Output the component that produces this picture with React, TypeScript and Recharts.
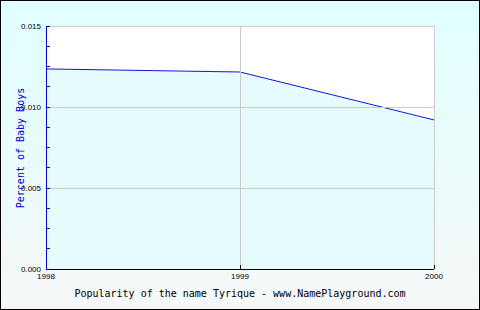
import React from "react";
import { ComposedChart, Area, XAxis, YAxis, ReferenceLine } from "recharts";

const years = [1998, 1999, 2000];
const percents = [0.01235, 0.01216, 0.0092];
const yTicks = [0, 0.00125, 0.0025, 0.00375, 0.005, 0.00625, 0.0075, 0.00875, 0.01, 0.01125, 0.0125, 0.01375, 0.015];
const yMajor = [0.005, 0.01, 0.015];
const yLabels: Record<string, string> = { "0": "0.000", "0.005": "0.005", "0.01": "0.010", "0.015": "0.015" };
const title = "Popularity of the name Tyrique - www.NamePlayground.com";
const yTitle = "Percent of Baby Boys";

const data = years.map((y, i) => ({ year: y, pct: percents[i] }));

export default function App() {
  return (
    <div
      style={{
        position: "absolute",
        left: 0,
        top: 0,
        width: 480,
        height: 310,
        boxSizing: "border-box",
        border: "1px solid #000",
        background: "linear-gradient(#e0ffff, #f6f8f8)",
        overflow: "hidden",
      }}
    >
      <ComposedChart
        width={478}
        height={308}
        data={data}
        margin={{ top: 25, right: 45, bottom: 0, left: 0 }}
      >
        <rect x={45} y={25} width={388} height={243} fill="#ffffff" />
        <Area
          type="linear"
          dataKey="pct"
          stroke="#1414e0"
          strokeWidth={1}
          fill="#e6fcfc"
          fillOpacity={1}
          isAnimationActive={false}
          dot={false}
          activeDot={false}
        />
        {yMajor.map((v) => (
          <ReferenceLine key={"h" + v} y={v} stroke="#cccccc" strokeWidth={1} shapeRendering="crispEdges" />
        ))}
        <ReferenceLine x={1999} stroke="#cccccc" strokeWidth={1} shapeRendering="crispEdges" />
        <ReferenceLine x={2000} stroke="#cccccc" strokeWidth={1} shapeRendering="crispEdges" />
        <XAxis
          dataKey="year"
          type="number"
          domain={[1998, 2000]}
          ticks={years}
          height={40}
          axisLine={{ stroke: "#000000", shapeRendering: "crispEdges" }}
          tickLine={{ stroke: "#000000", shapeRendering: "crispEdges" }}
          tickSize={-4}
          tickMargin={8}
          tick={{ fontFamily: "Liberation Sans", fontSize: 8, fill: "#000000" }}
          interval={0}
        />
        <YAxis
          type="number"
          domain={[0, 0.015]}
          ticks={yTicks}
          width={45}
          axisLine={{ stroke: "#0000cc", shapeRendering: "crispEdges" }}
          tickLine={{ stroke: "#0000cc", shapeRendering: "crispEdges" }}
          tickSize={-4}
          tickMargin={9}
          interval={0}
          tickFormatter={(v: number) => yLabels[String(v)] ?? ""}
          tick={{ fontFamily: "Liberation Sans", fontSize: 8, fill: "#000000" }}
        />
      </ComposedChart>
      <div
        style={{
          position: "absolute",
          left: 0,
          top: 286,
          width: 478,
          textAlign: "center",
          fontFamily: "DejaVu Sans Mono",
          fontSize: 10,
          lineHeight: "14px",
          color: "#000000",
          whiteSpace: "nowrap",
        }}
      >
        {title}
      </div>
      <div
        style={{
          position: "absolute",
          left: 20 - 80,
          top: 147 - 7,
          width: 160,
          textAlign: "center",
          transform: "rotate(-90deg)",
          fontFamily: "DejaVu Sans Mono",
          fontSize: 10,
          lineHeight: "14px",
          color: "#0000cc",
          whiteSpace: "nowrap",
        }}
      >
        {yTitle}
      </div>
    </div>
  );
}
